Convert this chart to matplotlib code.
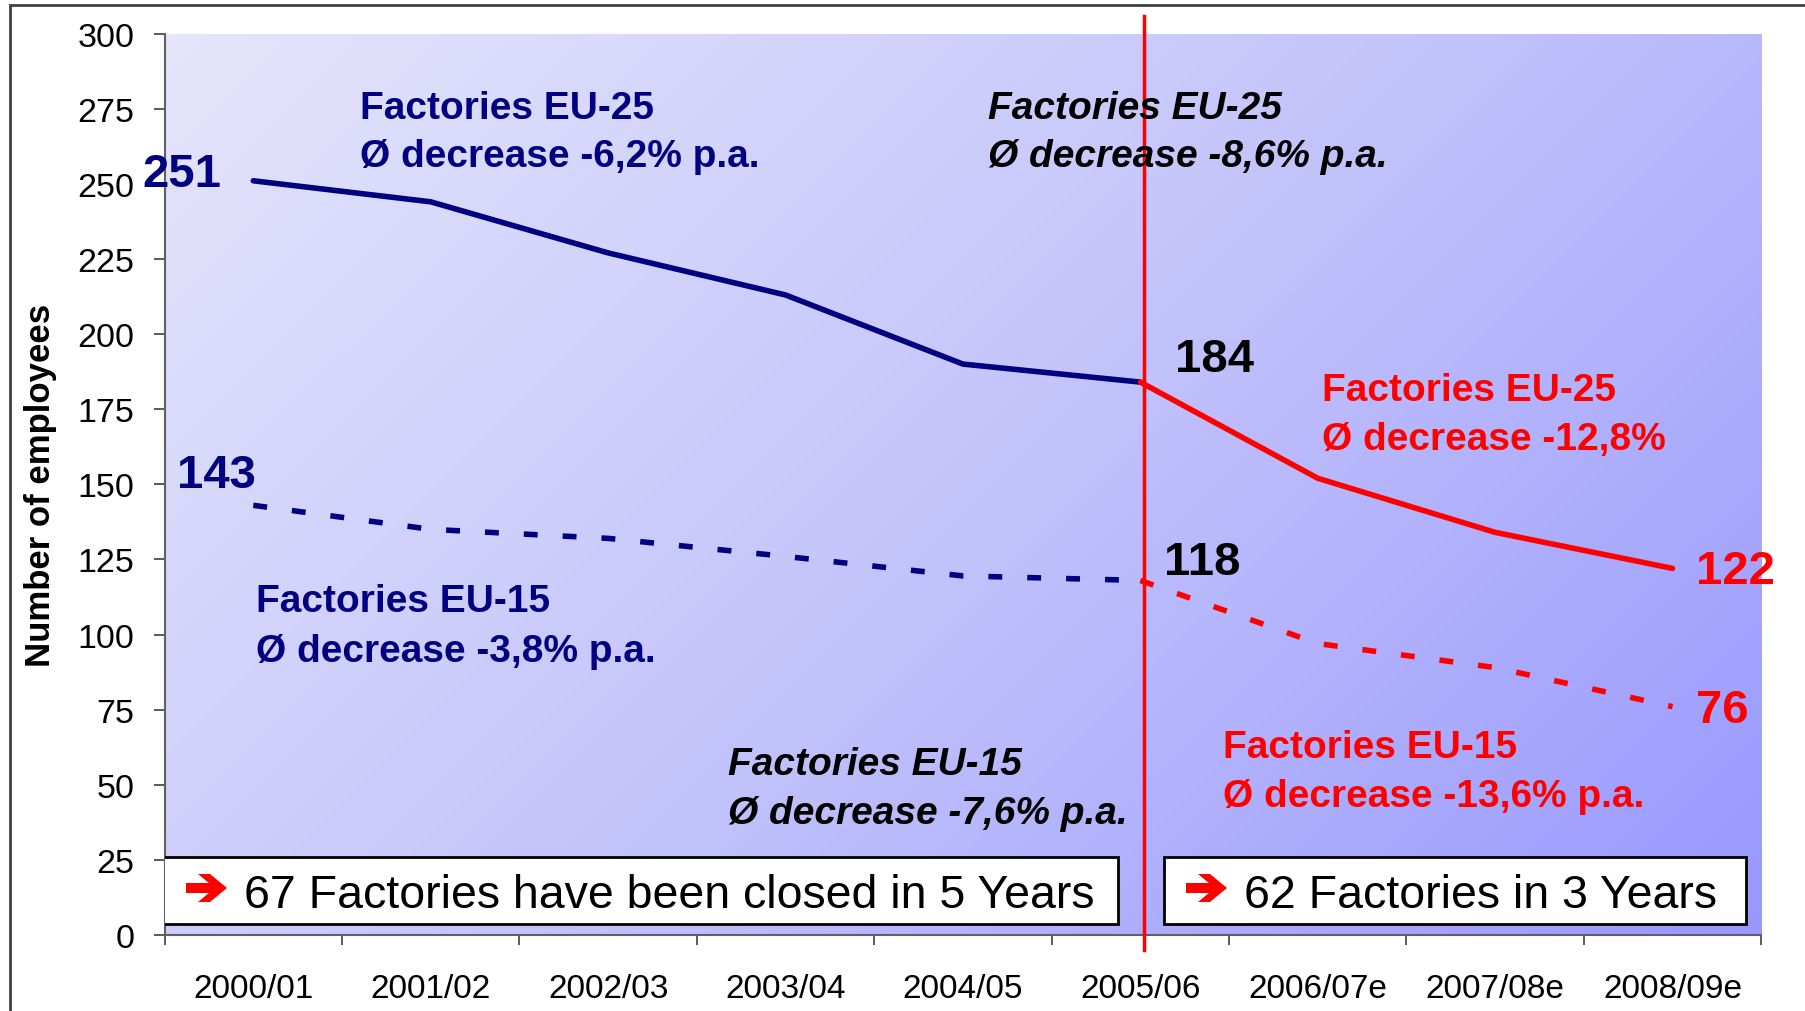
import numpy as np
import matplotlib
matplotlib.use("Agg")
import matplotlib.pyplot as plt
from matplotlib.patches import Rectangle, Polygon
from matplotlib.colors import LinearSegmentedColormap

plt.rcParams['font.family'] = ['Liberation Sans', 'DejaVu Sans']

# data
categories = ["2000/01", "2001/02", "2002/03", "2003/04", "2004/05",
              "2005/06", "2006/07e", "2007/08e", "2008/09e"]
eu25 = [251, 244, 227, 213, 190, 184, 152, 134, 122]
eu15 = [143, 135, 132, 126, 119.5, 118, 97, 89, 76]
yticks = list(range(0, 301, 25))

NAVY = "#000080"
RED = "#FF0000"

W, H = 1805, 1012
fig = plt.figure(figsize=(W / 100, H / 100), dpi=100)
fig.patch.set_facecolor("white")

# outer frame (right / bottom edges are outside the picture)
fig.add_artist(Rectangle((9.6 / W, -0.1), 1.2, 1.1 - 6 / H,
                         transform=fig.transFigure, fill=False,
                         edgecolor="#404040", lw=2.0))

ax = fig.add_axes([143 / 1568, 1 - 813 / 879, 1387 / 1568, 783 / 879])

# diagonal background gradient
nx, ny = 400, 240
gx, gy = np.meshgrid(np.linspace(0, 1, nx), np.linspace(0, 1, ny))
aspect = 1387 / 783
grad = (gx * aspect + gy) / (aspect + 1)
cmap = LinearSegmentedColormap.from_list("bg", ["#E5E5FB", "#C4C4FB", "#9898FF"])
ax.imshow(grad, cmap=cmap, extent=[0, 1, 0, 1], transform=ax.transAxes,
          aspect="auto", origin="upper", zorder=0, interpolation="bilinear")

x = np.arange(len(categories))
split = categories.index("2005/06")

lw = 4.0
dash = (2.5, 4.5)
ax.plot(x[:split + 1], eu25[:split + 1], color=NAVY, lw=lw, zorder=3,
        solid_capstyle="round", solid_joinstyle="round")
ax.plot(x[split:], eu25[split:], color=RED, lw=lw, zorder=3,
        solid_capstyle="round", solid_joinstyle="round")
ax.plot(x[:split + 1], eu15[:split + 1], color=NAVY, lw=lw, zorder=3,
        dashes=dash)
ax.plot(x[split:], eu15[split:], color=RED, lw=lw, zorder=3,
        dashes=dash)

# divider line
ax.axvline(split + 0.02, ymin=-0.0166, ymax=1.0192, color=RED, lw=2.5,
           clip_on=False, zorder=4)

ax.set_xlim(-0.5, len(categories) - 0.5)
ax.set_ylim(0, 300)
ax.set_yticks(yticks)
ax.set_xticks(x)
ax.set_xticklabels(categories)
ax.set_xticks(np.arange(-0.5, len(categories)), minor=True)
ax.tick_params(axis="x", which="major", length=0, pad=27, labelsize=24)
ax.tick_params(axis="x", which="minor", length=7.2, width=1.2, color="#404040")
ax.tick_params(axis="y", length=7.6, width=1.2, pad=14, labelsize=24.5,
               color="#404040")
for s in ["top", "right"]:
    ax.spines[s].set_visible(False)
for s in ["left", "bottom"]:
    ax.spines[s].set_color("#606060")
    ax.spines[s].set_linewidth(1.5)

fig.text(35 / 1568, 1 - 422 / 879, "Number of employees", rotation=90,
         ha="center", va="center", fontsize=25, fontweight="bold")

# value labels (offsets in pixels from the data point)
def vlabel(i, series, dx, dy, color):
    ax.annotate(f"{series[i]:g}", xy=(i, series[i]), xytext=(dx, dy),
                textcoords="offset pixels", ha="left", va="baseline",
                fontsize=34, fontweight="bold", color=color, zorder=5)

vlabel(0, eu25, -111, -5, NAVY)
vlabel(0, eu15, -76, 18, NAVY)
vlabel(split, eu25, 35, 11, "black")
vlabel(split, eu15, 24, 6, "black")
vlabel(8, eu25, 23, -15, RED)
vlabel(8, eu15, 23, -15, RED)

# two-line annotations, positioned in display pixels of the reference
def note(xd, yb1, yb2, l1, l2, color, italic=False):
    style = "italic" if italic else "normal"
    for yb, s in ((yb1, l1), (yb2, l2)):
        fig.text(xd / 1568, 1 - yb / 879, s, ha="left", va="baseline",
                 fontsize=28, fontweight="bold", style=style, color=color,
                 zorder=6)

note(313, 103, 145, "Factories EU-25", "Ø decrease -6,2% p.a.", NAVY)
note(858, 103, 145, "Factories EU-25", "Ø decrease -8,6% p.a.", "black", True)
note(1148, 348, 391, "Factories EU-25", "Ø decrease -12,8%", RED)
note(222, 532, 575, "Factories EU-15", "Ø decrease -3,8% p.a.", NAVY)
note(632, 673, 716, "Factories EU-15", "Ø decrease -7,6% p.a.", "black", True)
note(1062, 658, 701, "Factories EU-15", "Ø decrease -13,6% p.a.", RED)

# heavy red arrow, drawn in image pixels (left edge x0, centre y yc)
arrow_shape = [(0, 5), (22.9, 5), (12, 14), (24, 14), (41, 0),
               (24, -14), (12, -14), (22.9, -5), (0, -5)]

def arrow(x0, yc):
    pts = [((x0 + px) / W, (H - yc + py) / H) for px, py in arrow_shape]
    fig.add_artist(Polygon(pts, closed=True, transform=fig.transFigure,
                           facecolor=RED, edgecolor="none", zorder=8))

# boxes at the bottom
def box(x0, x1, text, tx, arrow_x):
    y0 = (813 - 803) / 783
    y1 = (813 - 745) / 783
    ax.add_patch(Rectangle(((x0 - 143) / 1387, y0), (x1 - x0) / 1387, y1 - y0,
                           transform=ax.transAxes, facecolor="white",
                           edgecolor="black", lw=2, zorder=7))
    arrow(arrow_x, 889)
    fig.text(tx / 1568, 1 - 789 / 879, text, ha="left", va="baseline",
             fontsize=33.5, color="black", zorder=8)

box(142, 971, "67 Factories have been closed in 5 Years", 212, 186)
box(1011, 1517, "62 Factories in 3 Years", 1081, 1186)

fig.savefig("out.png", dpi=100)
